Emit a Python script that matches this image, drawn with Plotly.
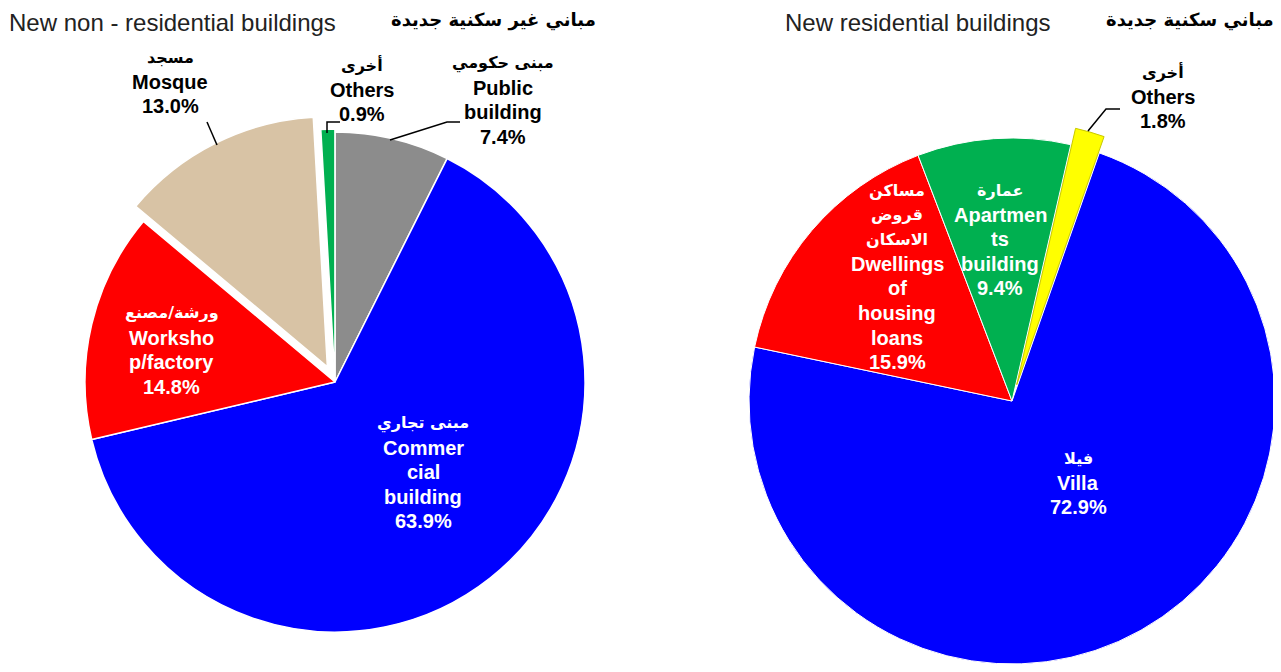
import math
import plotly.graph_objects as go

# ---------------- data ----------------
left_labels_en = ["Public building", "Commercial building", "Workshop/factory", "Mosque", "Others"]
left_labels_ar = ["مبنى حكومي", "مبنى تجاري", "ورشة/مصنع", "مسجد", "أخرى"]
left_values = [7.4, 63.9, 14.8, 13.0, 0.9]
left_display_en = [["Public", "building"], ["Commer", "cial", "building"], ["Worksho", "p/factory"], ["Mosque"], ["Others"]]

right_labels_en = ["Villa", "Dwellings of housing loans", "Apartments building", "Others"]
right_labels_ar = [["فيلا"], ["مساكن", "قروض", "الاسكان"], ["عمارة"], ["أخرى"]]
right_values = [72.9, 15.9, 9.4, 1.8]
right_display_en = [["Villa"], ["Dwellings", "of", "housing", "loans"], ["Apartmen", "ts", "building"], ["Others"]]

titles_en = ["New non - residential buildings", "New residential buildings"]
titles_ar = ["مباني غير سكنية جديدة", "مباني سكنية جديدة"]

# ---------------- styles / layout ----------------
left_colors = ["#8C8C8C", "#0000FF", "#FF0000", "#D8C3A5", "#00B050"]
left_pull = [0, 0, 0, 0.068, 0.012]
right_colors = ["#0000FF", "#FF0000", "#00B050", "#FFFF00"]

OFF = 8                      # page body margin
FW, FH = 1281 - OFF, 672 - OFF

def X(px):
    return (px - OFF) / FW

def Y(py):
    return 1 - (py - OFF) / FH

def dom(cx, cy, half):
    return dict(x=[max(0, X(cx - half)), min(1, X(cx + half))],
                y=[max(0, Y(cy + half)), min(1, Y(cy - half))])

L_CX, L_CY, L_R = 335, 382, 250
R_CX, R_CY, R_R = 1012, 401, 263

fig = go.Figure()

fig.add_trace(go.Pie(
    labels=left_labels_en, values=left_values, sort=False, direction="clockwise",
    rotation=0, pull=left_pull, textinfo="none", hoverinfo="label+percent",
    marker=dict(colors=left_colors, line=dict(color="white", width=1.5)),
    domain=dom(L_CX, L_CY, L_R * (1 + max(left_pull))), showlegend=False,
))

r_rot = 19.4
main_cols = right_colors[:-1] + ["rgba(0,0,0,0)"]
fig.add_trace(go.Pie(
    labels=right_labels_en, values=right_values, sort=False, direction="clockwise",
    rotation=r_rot, textinfo="none", hoverinfo="label+percent",
    marker=dict(colors=main_cols, line=dict(color=["white", "white", "white", "rgba(0,0,0,0)"], width=1)),
    domain=dom(R_CX, R_CY, R_R), showlegend=False,
))
# exploded "Others" slice: the same pie shifted outward along the slice's mid angle
mid = math.radians(r_rot - 360 * right_values[-1] / 2 / sum(right_values))
shift = 17
ocx, ocy = R_CX + shift * math.sin(mid), R_CY - shift * math.cos(mid)
exp_cols = ["rgba(0,0,0,0)"] * 3 + [right_colors[-1]]
fig.add_trace(go.Pie(
    labels=right_labels_en, values=right_values, sort=False, direction="clockwise",
    rotation=r_rot, textinfo="none", hoverinfo="skip",
    marker=dict(colors=exp_cols, line=dict(color=["rgba(0,0,0,0)"] * 3 + ["#C8C800"], width=1)),
    domain=dom(ocx, ocy, R_R), showlegend=False,
))

# ---------------- labels ----------------
LAT = "Liberation Sans, Arial, sans-serif"
ARB = "DejaVu Sans, sans-serif"
STEP = 24.6
left_pos = [(503, 63, "black"), (423, 423, "white"), (172, 313, "white"), (170, 57, "black"), (362, 65, "black")]
right_pos = [(1078, 458, "white"), (897, 190, "white"), (1000, 190, "white"), (1163, 72, "black")]

ann = []

def add_label(ar_lines, en_lines, v, pos):
    px, py, col = pos
    lines = [(t, ARB, 16) for t in ar_lines] + [(t, LAT, 20) for t in en_lines] + [(f"{v:.1f}%", LAT, 20)]
    for i, (t, fam, sz) in enumerate(lines):
        ann.append(dict(x=X(px), y=Y(py + i * STEP), xref="paper", yref="paper", showarrow=False,
                        xanchor="center", yanchor="middle", text=f"<b>{t}</b>",
                        font=dict(family=fam, size=sz, color=col)))

for ar, en, v, pos in zip(left_labels_ar, left_display_en, left_values, left_pos):
    add_label([ar], en, v, pos)
for ar, en, v, pos in zip(right_labels_ar, right_display_en, right_values, right_pos):
    add_label(ar, en, v, pos)

# titles (top edge of the figure)
for txt, px, anchor, fam, sz, bold, col in [
    (titles_en[0], 8, "left", LAT, 24, False, "#222222"),
    (titles_ar[0], 597, "right", ARB, 18, True, "black"),
    (titles_en[1], 784, "left", LAT, 24, False, "#222222"),
    (titles_ar[1], 1275, "right", ARB, 18, True, "black"),
]:
    ann.append(dict(x=X(px), y=1, xref="paper", yref="paper", showarrow=False,
                    xanchor=anchor, yanchor="top", borderpad=0,
                    text=f"<b>{txt}</b>" if bold else txt,
                    font=dict(family=fam, size=sz, color=col)))

# leader lines
leaders = [
    [(390, 140), (447, 122), (460, 122)],
    [(327, 133), (327, 122), (340, 122)],
    [(207, 122), (217, 145)],
    [(1088, 131), (1106, 109), (1120, 109)],
]
shapes = []
for pts in leaders:
    path = "M " + " L ".join(f"{X(a):.5f},{Y(b):.5f}" for a, b in pts)
    shapes.append(dict(type="path", path=path, xref="paper", yref="paper",
                       line=dict(color="black", width=1.5)))

fig.update_layout(
    width=FW, height=FH, margin=dict(l=0, r=0, t=0, b=0),
    paper_bgcolor="white", plot_bgcolor="white",
    annotations=ann, shapes=shapes, showlegend=False,
)

fig.write_html("out.html")
